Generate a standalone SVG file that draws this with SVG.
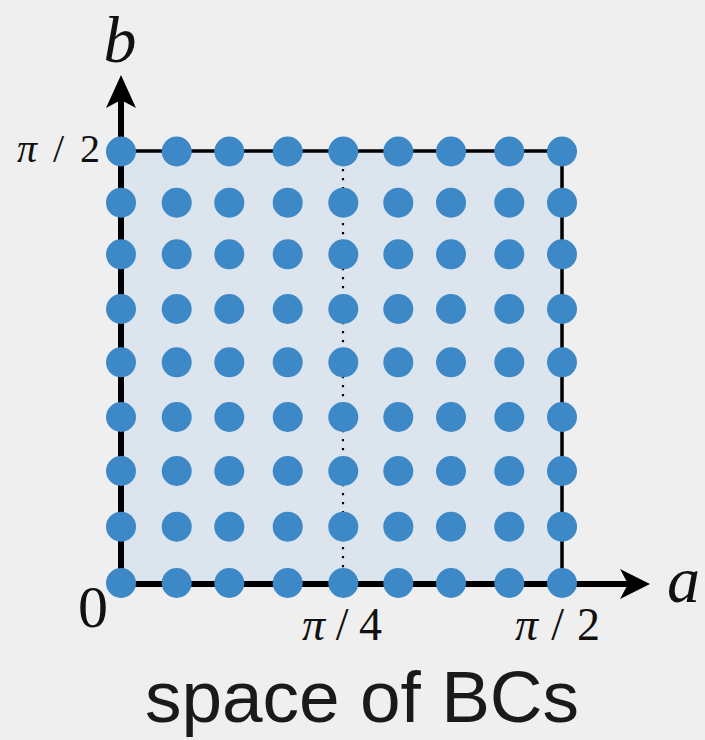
<svg xmlns="http://www.w3.org/2000/svg" xmlns:xlink="http://www.w3.org/1999/xlink" width="705" height="740" viewBox="0 0 705 740">
<style>
.math{font-family:"Liberation Serif","DejaVu Serif",serif;fill:#111}
.it{font-style:italic}
.cap{font-family:"Liberation Sans",Arial,sans-serif;fill:#1a1a1a}
.pt{fill:#3d88c6}
</style>
<defs>
<circle id="d" r="15" class="pt"/>
</defs>
<rect width="705" height="740" fill="#efefef"/>
<g id="square">
<rect x="121" y="151" width="441" height="433" fill="#dce5ee"/>
<path d="M121 151H562V584" fill="none" stroke="#000" stroke-width="3.5"/>
<line x1="343" y1="160" x2="343" y2="578" stroke="#000" stroke-width="2.2" stroke-dasharray="2.2 6.8"/>
</g>
<g id="axes">
<line x1="121" y1="587" x2="121" y2="100" stroke="#000" stroke-width="6"/>
<line x1="118" y1="584" x2="630" y2="584" stroke="#000" stroke-width="6"/>
<path d="M121 75L136 108L121 100L106 108Z" fill="#000"/>
<path d="M650 584L620 569L628 584L620 599Z" fill="#000"/>
</g>
<g id="points">
<g id="r0"><use href="#d" x="121" y="151.5"/><use href="#d" x="176.7" y="151.5"/><use href="#d" x="229.3" y="151.5"/><use href="#d" x="287.7" y="151.5"/><use href="#d" x="343.3" y="151.5"/><use href="#d" x="398.3" y="151.5"/><use href="#d" x="451" y="151.5"/><use href="#d" x="509.3" y="151.5"/><use href="#d" x="562" y="151.5"/></g>
<g id="r1"><use href="#d" x="121" y="202.7"/><use href="#d" x="176.7" y="202.7"/><use href="#d" x="229.3" y="202.7"/><use href="#d" x="287.7" y="202.7"/><use href="#d" x="343.3" y="202.7"/><use href="#d" x="398.3" y="202.7"/><use href="#d" x="451" y="202.7"/><use href="#d" x="509.3" y="202.7"/><use href="#d" x="562" y="202.7"/></g>
<g id="r2"><use href="#d" x="121" y="254.3"/><use href="#d" x="176.7" y="254.3"/><use href="#d" x="229.3" y="254.3"/><use href="#d" x="287.7" y="254.3"/><use href="#d" x="343.3" y="254.3"/><use href="#d" x="398.3" y="254.3"/><use href="#d" x="451" y="254.3"/><use href="#d" x="509.3" y="254.3"/><use href="#d" x="562" y="254.3"/></g>
<g id="r3"><use href="#d" x="121" y="309"/><use href="#d" x="176.7" y="309"/><use href="#d" x="229.3" y="309"/><use href="#d" x="287.7" y="309"/><use href="#d" x="343.3" y="309"/><use href="#d" x="398.3" y="309"/><use href="#d" x="451" y="309"/><use href="#d" x="509.3" y="309"/><use href="#d" x="562" y="309"/></g>
<g id="r4"><use href="#d" x="121" y="362.3"/><use href="#d" x="176.7" y="362.3"/><use href="#d" x="229.3" y="362.3"/><use href="#d" x="287.7" y="362.3"/><use href="#d" x="343.3" y="362.3"/><use href="#d" x="398.3" y="362.3"/><use href="#d" x="451" y="362.3"/><use href="#d" x="509.3" y="362.3"/><use href="#d" x="562" y="362.3"/></g>
<g id="r5"><use href="#d" x="121" y="417"/><use href="#d" x="176.7" y="417"/><use href="#d" x="229.3" y="417"/><use href="#d" x="287.7" y="417"/><use href="#d" x="343.3" y="417"/><use href="#d" x="398.3" y="417"/><use href="#d" x="451" y="417"/><use href="#d" x="509.3" y="417"/><use href="#d" x="562" y="417"/></g>
<g id="r6"><use href="#d" x="121" y="471"/><use href="#d" x="176.7" y="471"/><use href="#d" x="229.3" y="471"/><use href="#d" x="287.7" y="471"/><use href="#d" x="343.3" y="471"/><use href="#d" x="398.3" y="471"/><use href="#d" x="451" y="471"/><use href="#d" x="509.3" y="471"/><use href="#d" x="562" y="471"/></g>
<g id="r7"><use href="#d" x="121" y="526.7"/><use href="#d" x="176.7" y="526.7"/><use href="#d" x="229.3" y="526.7"/><use href="#d" x="287.7" y="526.7"/><use href="#d" x="343.3" y="526.7"/><use href="#d" x="398.3" y="526.7"/><use href="#d" x="451" y="526.7"/><use href="#d" x="509.3" y="526.7"/><use href="#d" x="562" y="526.7"/></g>
<g id="r8"><use href="#d" x="121" y="583"/><use href="#d" x="176.7" y="583"/><use href="#d" x="229.3" y="583"/><use href="#d" x="287.7" y="583"/><use href="#d" x="343.3" y="583"/><use href="#d" x="398.3" y="583"/><use href="#d" x="451" y="583"/><use href="#d" x="509.3" y="583"/><use href="#d" x="562" y="583"/></g>
</g>
<g id="labels">
<text class="math it" x="120" y="62" font-size="66" text-anchor="middle">b</text>
<text class="math it" x="667" y="602" font-size="66">a</text>
<text class="math" x="78" y="627" font-size="60">0</text>
<text class="math" x="17" y="162" font-size="40" textLength="83" lengthAdjust="spacing"><tspan class="it">π</tspan>/2</text>
<text class="math" x="302" y="640" font-size="46" textLength="80" lengthAdjust="spacing"><tspan class="it">π</tspan>/4</text>
<text class="math" x="515" y="640" font-size="46" textLength="85" lengthAdjust="spacing"><tspan class="it">π</tspan>/2</text>
<text class="cap" x="362" y="722" font-size="73" text-anchor="middle">space of BCs</text>
</g>
</svg>
